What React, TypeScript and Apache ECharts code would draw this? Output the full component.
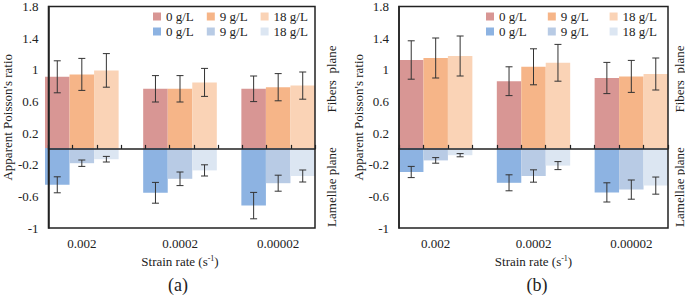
import React, { useEffect, useRef } from 'react';
import * as echarts from 'echarts';

const strainRates = ['0.002', '0.0002', '0.00002'];
const concentrations = ['0 g/L', '9 g/L', '18 g/L'];

// Panel (a)
const aFib0 = [0.89, 0.74, 0.74];
const aFib9 = [0.92, 0.74, 0.76];
const aFib18 = [0.97, 0.82, 0.78];
const aFib0Err = [0.2, 0.165, 0.16];
const aFib9Err = [0.2, 0.165, 0.17];
const aFib18Err = [0.21, 0.175, 0.17];
const aLam0 = [-0.46, -0.56, -0.72];
const aLam9 = [-0.19, -0.385, -0.44];
const aLam18 = [-0.14, -0.28, -0.35];
const aLam0Err = [0.1, 0.13, 0.165];
const aLam9Err = [0.04, 0.085, 0.1];
const aLam18Err = [0.035, 0.07, 0.075];

// Panel (b)
const bFib0 = [1.1, 0.835, 0.875];
const bFib9 = [1.125, 1.015, 0.895];
const bFib18 = [1.15, 1.065, 0.925];
const bFib0Err = [0.24, 0.18, 0.195];
const bFib9Err = [0.25, 0.225, 0.2];
const bFib18Err = [0.25, 0.23, 0.2];
const bLam0 = [-0.3, -0.435, -0.555];
const bLam9 = [-0.155, -0.35, -0.52];
const bLam18 = [-0.09, -0.22, -0.47];
const bLam0Err = [0.07, 0.1, 0.12];
const bLam9Err = [0.035, 0.077, 0.12];
const bLam18Err = [0.02, 0.05, 0.107];

const fibersColors = ['#D89694', '#F6B588', '#FAD3B6'];
const lamellaeColors = ['#8DB3E2', '#B8CBE5', '#DCE6F2'];

const FONT = 'Liberation Serif';
const TXT = '#222';

const panels = [
  {
    fib: [aFib0, aFib9, aFib18], fibErr: [aFib0Err, aFib9Err, aFib18Err],
    lam: [aLam0, aLam9, aLam18], lamErr: [aLam0Err, aLam9Err, aLam18Err],
    left: 45, width: 270, legendLeft: 153, legendGap: 13, label: '(a)', labelX: 178, sideX: 331,
  },
  {
    fib: [bFib0, bFib9, bFib18], fibErr: [bFib0Err, bFib9Err, bFib18Err],
    lam: [bLam0, bLam9, bLam18], lamErr: [bLam0Err, bLam9Err, bLam18Err],
    left: 399, width: 269, legendLeft: 486, legendGap: 21, label: '(b)', labelX: 537, sideX: 679,
  },
];

const TOP = 4;
const HEIGHT = 224;

function buildOption() {
  const grid: any[] = [];
  const xAxis: any[] = [];
  const yAxis: any[] = [];
  const series: any[] = [];
  const legend: any[] = [];
  const graphic: any[] = [];
  const strip = (n: string) => n.replace(/^(Fibers|Lamellae) /, '');

  panels.forEach((p, pi) => {
    const slot = p.width / 11;
    const fg = pi * 2;
    const bg = pi * 2 + 1;
    grid.push({ left: p.left, top: TOP, width: p.width, height: HEIGHT, show: true, borderColor: '#222', borderWidth: 1.5, backgroundColor: 'transparent', z: 5 });
    grid.push({ left: p.left - slot / 2, top: TOP, width: p.width + slot, height: HEIGHT });

    yAxis.push({
      gridIndex: fg, type: 'value', min: -1, max: 1.8, interval: 0.4, z: 6,
      axisLine: { show: true, lineStyle: { color: '#222', width: 1.5 } },
      axisTick: { show: false }, splitLine: { show: false },
      axisLabel: { fontFamily: FONT, fontSize: 13, color: TXT, margin: 10, formatter: (v: number) => String(+v.toFixed(1)) },
      name: "Apparent Poisson's ratio", nameLocation: 'middle', nameGap: 32,
      nameTextStyle: { fontFamily: FONT, fontSize: 13, color: TXT },
    });
    xAxis.push({
      gridIndex: fg, type: 'value', min: 0, max: 11, interval: 1, z: 6,
      axisLine: { show: true, onZero: true, lineStyle: { color: '#222', width: 1.5 } },
      axisTick: { show: true, inside: true, length: 4, lineStyle: { color: '#222', width: 1.2 } },
      axisLabel: { show: false }, splitLine: { show: false },
    });
    yAxis.push({ gridIndex: bg, type: 'value', min: -1, max: 1.8, show: false });
    xAxis.push({
      gridIndex: bg, type: 'category', data: strainRates,
      axisLine: { show: false, onZero: false }, axisTick: { show: false },
      axisLabel: { fontFamily: FONT, fontSize: 13, color: TXT, margin: 9 },
      name: '{a|Strain rate (s}{b|-1}{a|)}', nameLocation: 'middle', nameGap: 24,
      nameTextStyle: {
        rich: {
          a: { fontFamily: FONT, fontSize: 13, color: TXT, lineHeight: 14 },
          b: { fontFamily: FONT, fontSize: 8, color: TXT, lineHeight: 6, verticalAlign: 'top' },
        },
      },
    });

    concentrations.forEach((c, k) => {
      series.push({
        name: 'Fibers ' + c, type: 'bar', xAxisIndex: bg, yAxisIndex: bg,
        stack: 'p' + pi + 'c' + k, data: p.fib[k], itemStyle: { color: fibersColors[k] },
        barGap: '0%', barCategoryGap: '25%',
      });
    });
    concentrations.forEach((c, k) => {
      series.push({
        name: 'Lamellae ' + c, type: 'bar', xAxisIndex: bg, yAxisIndex: bg,
        stack: 'p' + pi + 'c' + k, data: p.lam[k], itemStyle: { color: lamellaeColors[k] },
        barGap: '0%', barCategoryGap: '25%',
      });
    });

    const errData: number[][] = [];
    [0, 1, 2].forEach((k) => {
      strainRates.forEach((_, ci) => {
        const fv = p.fib[k][ci], fe = p.fibErr[k][ci];
        errData.push([ci, k, fv - fe, fv + fe]);
        const lv = p.lam[k][ci], le = p.lamErr[k][ci];
        errData.push([ci, k, lv - le, lv + le]);
      });
    });
    series.push({
      type: 'custom', xAxisIndex: bg, yAxisIndex: bg, z: 4, silent: true,
      encode: { x: 0, y: [2, 3] },
      data: errData,
      renderItem: (params: any, api: any) => {
        const ci = api.value(0), k = api.value(1), lo = api.value(2), hi = api.value(3);
        const band = api.size([1, 0])[0];
        const bw = (band * 0.75) / 3;
        const t = api.coord([ci, hi]);
        const b = api.coord([ci, lo]);
        const x = t[0] + (k - 1) * bw;
        const cap = 3.5;
        const style = { stroke: '#333', lineWidth: 1 };
        return {
          type: 'group',
          children: [
            { type: 'line', shape: { x1: x, y1: t[1], x2: x, y2: b[1] }, style },
            { type: 'line', shape: { x1: x - cap, y1: t[1], x2: x + cap, y2: t[1] }, style },
            { type: 'line', shape: { x1: x - cap, y1: b[1], x2: x + cap, y2: b[1] }, style },
          ],
        };
      },
    });

    legend.push({
      data: concentrations.map((c) => 'Fibers ' + c), left: p.legendLeft, top: 10, padding: 0,
      itemWidth: 8, itemHeight: 8, itemGap: p.legendGap, icon: 'rect', selectedMode: false,
      formatter: strip, textStyle: { fontFamily: FONT, fontSize: 13, color: TXT },
    });
    legend.push({
      data: concentrations.map((c) => 'Lamellae ' + c), left: p.legendLeft, top: 25, padding: 0,
      itemWidth: 8, itemHeight: 8, itemGap: p.legendGap, icon: 'rect', selectedMode: false,
      formatter: strip, textStyle: { fontFamily: FONT, fontSize: 13, color: TXT },
    });

    graphic.push({
      type: 'text', x: p.labelX, y: 285,
      style: { text: p.label, fontFamily: FONT, fontSize: 18, fill: TXT, align: 'center', verticalAlign: 'middle' },
    });
    graphic.push({
      type: 'text', x: p.sideX, y: 79, rotation: Math.PI / 2,
      style: { text: 'Fibers  plane', fontFamily: FONT, fontSize: 13, fill: TXT, align: 'center', verticalAlign: 'middle' },
    });
    graphic.push({
      type: 'text', x: p.sideX, y: 187, rotation: Math.PI / 2,
      style: { text: 'Lamellae plane', fontFamily: FONT, fontSize: 13, fill: TXT, align: 'center', verticalAlign: 'middle' },
    });
  });

  return { animation: false, backgroundColor: '#fff', grid, xAxis, yAxis, series, legend, graphic };
}

export default function App() {
  const ref = useRef<HTMLDivElement>(null);
  useEffect(() => {
    if (!ref.current) return;
    const chart = echarts.init(ref.current, undefined, { renderer: 'svg' });
    chart.setOption(buildOption() as any);
    return () => chart.dispose();
  }, []);
  return <div ref={ref} style={{ position: 'absolute', left: 0, top: 0, width: 685, height: 296 }} />;
}
